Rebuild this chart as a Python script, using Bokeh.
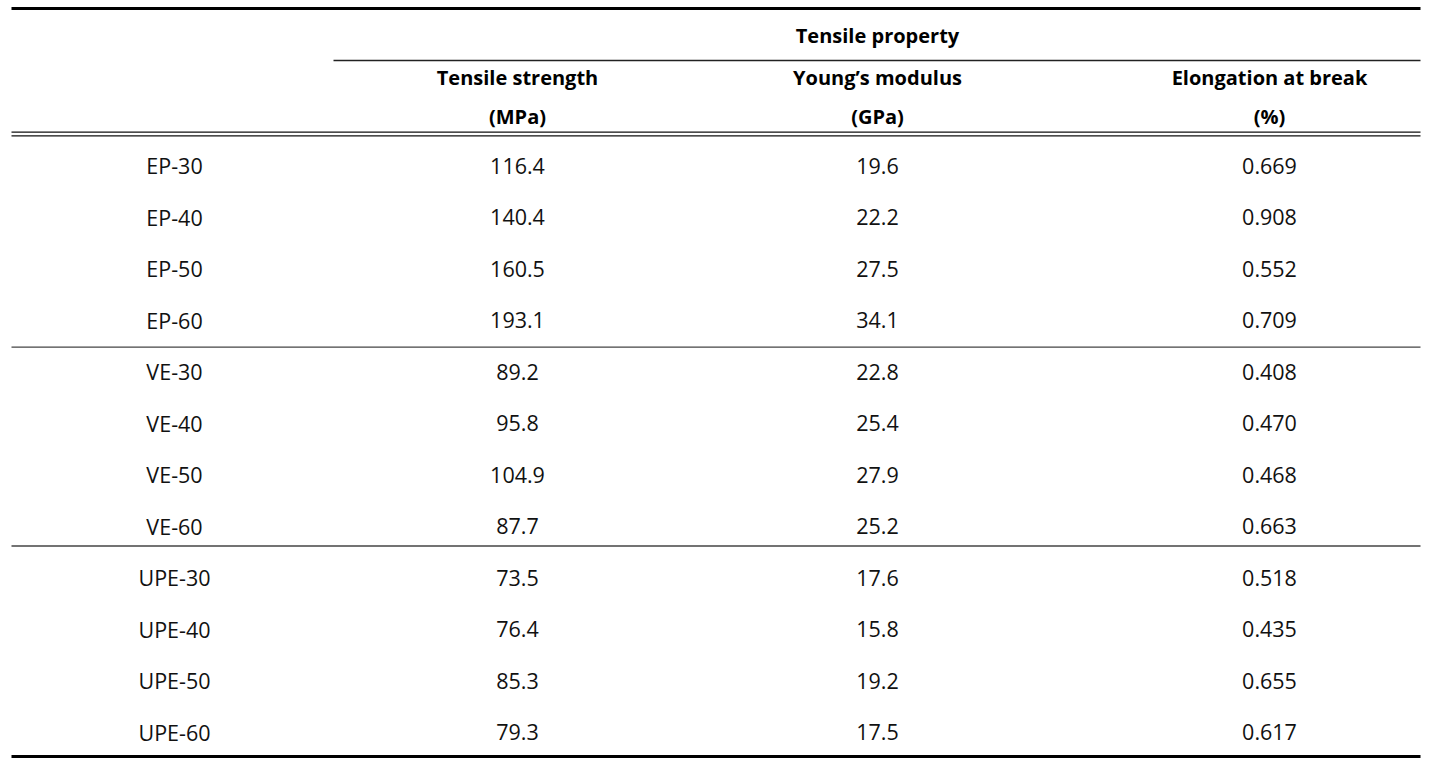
from bokeh.plotting import figure
from bokeh.models import Range1d, ColumnDataSource
from bokeh.core.properties import value
from bokeh.embed import file_html
from bokeh.resources import INLINE

# ---- data ----
samples = ["EP-30", "EP-40", "EP-50", "EP-60",
           "VE-30", "VE-40", "VE-50", "VE-60",
           "UPE-30", "UPE-40", "UPE-50", "UPE-60"]
tensile_strength = [116.4, 140.4, 160.5, 193.1, 89.2, 95.8, 104.9, 87.7, 73.5, 76.4, 85.3, 79.3]
youngs_modulus = [19.6, 22.2, 27.5, 34.1, 22.8, 25.4, 27.9, 25.2, 17.6, 15.8, 19.2, 17.5]
elongation = [0.669, 0.908, 0.552, 0.709, 0.408, 0.470, 0.468, 0.663, 0.518, 0.435, 0.655, 0.617]
group_header = "Tensile property"
col_titles = ["Tensile strength", "Young\u2019s modulus", "Elongation at break"]
col_units = ["(MPa)", "(GPa)", "(%)"]

# ---- layout (reference pixel coordinates) ----
W, H = 1439, 758
FONT = "Open Sans"
col_x = [174, 517, 877, 1269]
row0, row_step = 165, 51.5
row_y = [row0 + i * row_step for i in range(len(samples))]

p = figure(width=W, height=H, output_backend="svg", toolbar_location=None,
           x_range=Range1d(0, W), y_range=Range1d(H, 0),
           min_border=0, outline_line_color=None)
p.axis.visible = False
p.grid.visible = False

# body text
body = ColumnDataSource(dict(
    y=row_y,
    s=samples,
    ts=[f"{v:.1f}" for v in tensile_strength],
    ym=[f"{v:.1f}" for v in youngs_modulus],
    el=[f"{v:.3f}" for v in elongation],
))
for cx, field in zip(col_x, ["s", "ts", "ym", "el"]):
    p.text(x=cx, y="y", text=field, source=body, text_align="center",
           text_baseline="middle", text_font=value(FONT),
           text_font_size="21.5px", text_color="#111111")

# header text
hdr = dict(text_align="center", text_baseline="middle", text_font=value(FONT),
           text_font_style="bold", text_font_size="20px", text_color="#000000")
p.text(x=[877], y=[35], text=[group_header], **hdr)
p.text(x=col_x[1:], y=[77] * 3, text=col_titles, **hdr)
p.text(x=col_x[1:], y=[116] * 3, text=col_units, **hdr)

# rules
x0, x1 = 11, 1420
p.segment(x0=[x0, x0], y0=[8, 756], x1=[x1, x1], y1=[8, 756],
          line_color="#000000", line_width=3)
p.segment(x0=[333], y0=[60], x1=[x1], y1=[60], line_color="#222222", line_width=1.3)
p.segment(x0=[x0, x0], y0=[131.7, 135.3], x1=[x1, x1], y1=[131.7, 135.3],
          line_color="#111111", line_width=1.2)
p.segment(x0=[x0, x0], y0=[346.7, 545.5], x1=[x1, x1], y1=[346.7, 545.5],
          line_color="#444444", line_width=1.3)

open("out.html", "w").write(file_html(p, INLINE))
